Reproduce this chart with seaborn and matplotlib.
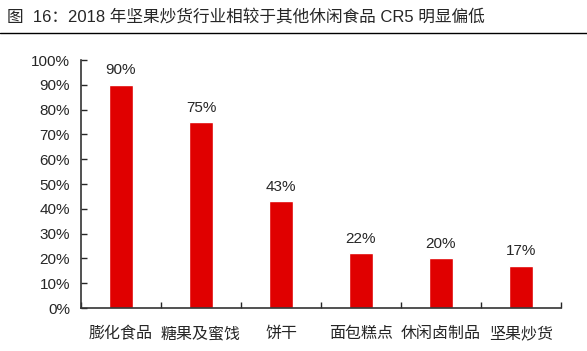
import matplotlib
matplotlib.use("Agg")
import matplotlib.pyplot as plt
import pandas as pd
import seaborn as sns

categories = ['膨化食品', '糖果及蜜饯', '饼干', '面包糕点', '休闲卤制品', '坚果炒货']
cr5 = [90, 75, 43, 22, 20, 17]
yticks = list(range(0, 101, 10))
title = '图  16：2018 年坚果炒货行业相较于其他休闲食品 CR5 明显偏低'

sns.set_style("white")
plt.rcParams['font.family'] = ['Liberation Sans', 'Noto Sans CJK SC', 'DejaVu Sans']

df = pd.DataFrame({'cat': categories, 'val': cr5})

fig = plt.figure(figsize=(5.87, 3.51), dpi=100)
ax = fig.add_axes([81 / 587, 1 - 308 / 351, 480 / 587, 248 / 351])
sns.barplot(data=df, x='cat', y='val', color='#e00000', width=0.31,
            saturation=1, ax=ax)

ax.set_ylim(0, 100)
ax.set_xlim(-0.5, len(categories) - 0.5)
ax.set_yticks(yticks)
ax.set_yticklabels([f'{t}%' for t in yticks], fontsize=11)
ax.set_xlabel('')
ax.set_ylabel('')
ax.tick_params(axis='x', labelsize=11.5, length=0, pad=13)
ax.tick_params(axis='y', direction='in', length=4, width=1, left=True, pad=8)

# category separator ticks on x axis
ax.set_xticks([i - 0.5 for i in range(len(categories) + 1)], minor=True)
ax.tick_params(axis='x', which='minor', direction='in', length=4, width=1, bottom=True)

for s in ['top', 'right']:
    ax.spines[s].set_visible(False)
for s in ['left', 'bottom']:
    ax.spines[s].set_color('#333333')
    ax.spines[s].set_linewidth(1.2)

for i, v in enumerate(cr5):
    ax.text(i, v + 3, f'{v}%', ha='center', va='bottom', fontsize=11)

fig.text(0.012, 1 - 17 / 351, title, fontsize=12, va='center', ha='left')
fig.add_artist(plt.Line2D([0, 1], [1 - 33 / 351, 1 - 33 / 351], color='black', lw=1))

fig.savefig('out.png', dpi=100)
